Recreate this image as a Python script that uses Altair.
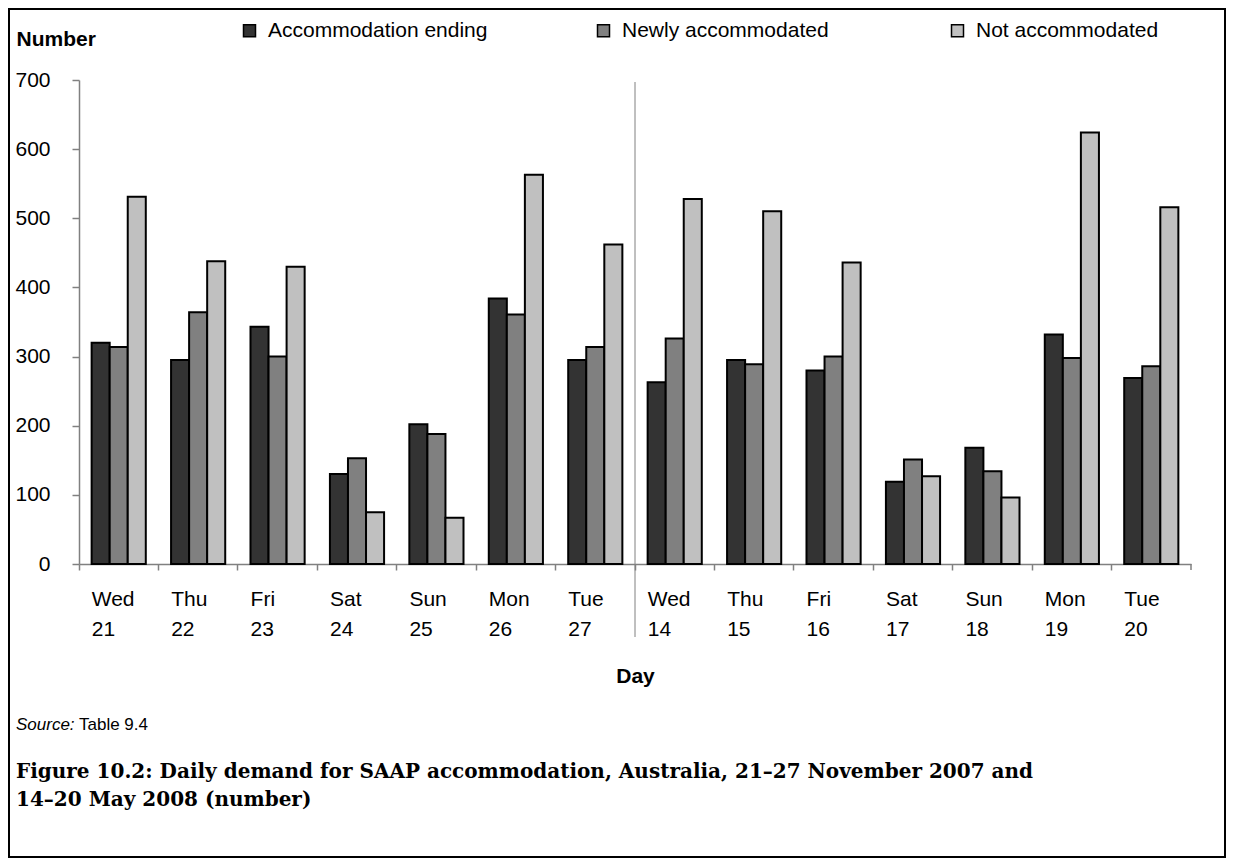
import altair as alt
import pandas as pd

days = ["Wed 21", "Thu 22", "Fri 23", "Sat 24", "Sun 25", "Mon 26", "Tue 27",
        "Wed 14", "Thu 15", "Fri 16", "Sat 17", "Sun 18", "Mon 19", "Tue 20"]
series = ["Accommodation ending", "Newly accommodated", "Not accommodated"]
accommodation_ending = [320, 295, 343, 130, 202, 384, 295, 263, 295, 280, 119, 168, 332, 269]
newly_accommodated = [314, 364, 300, 153, 188, 361, 314, 326, 289, 300, 151, 134, 298, 286]
not_accommodated = [531, 438, 430, 75, 67, 563, 462, 528, 510, 436, 127, 96, 624, 516]
colors = ["#333333", "#808080", "#c0c0c0"]
y_ticks = [0, 100, 200, 300, 400, 500, 600, 700]

rows = []
for name, vals in zip(series, [accommodation_ending, newly_accommodated, not_accommodated]):
    for d, v in zip(days, vals):
        rows.append({"day": d, "series": name, "value": v})
df = pd.DataFrame(rows)

SANS = "Liberation Sans"
W, H = 1112, 484
PL, PT = 71, 72
TOTW, TOTH = 1218, 850

xscale = alt.Scale(paddingInner=0, paddingOuter=0)

bars = alt.Chart(df).mark_bar(stroke="black", strokeWidth=2).encode(
    x=alt.X("day:N", sort=days, scale=xscale,
            axis=alt.Axis(title="Day", bandPosition=0, labelAlign="left", labelOffset=-27,
                          labelExpr="split(datum.label, ' ')", labelLineHeight=30,
                          labelBaseline="alphabetic", labelPadding=35,
                          labelFontSize=21, labelFont=SANS, labelColor="black",
                          tickSize=6, tickColor="#808080", tickWidth=1.5,
                          domainColor="#808080", domainWidth=1.5, labelAngle=0,
                          titleFont=SANS, titleFontSize=21, titleFontWeight="bold",
                          titleColor="black", titleBaseline="alphabetic", titleY=118)),
    xOffset=alt.XOffset("series:N", sort=series,
                        scale=alt.Scale(paddingOuter=0.7, paddingInner=0)),
    y=alt.Y("value:Q", scale=alt.Scale(domain=[0, 700], nice=False),
            axis=alt.Axis(values=y_ticks, grid=False, title="Number", titleAngle=0,
                          titleAlign="left", titleBaseline="alphabetic", titleX=-63, titleY=-35,
                          titleFont=SANS, titleFontSize=21, titleFontWeight="bold",
                          titleColor="black", labelFont=SANS, labelFontSize=21,
                          labelColor="black", labelPadding=22, tickSize=7,
                          tickColor="#808080", tickWidth=1.5, domainColor="#808080",
                          domainWidth=1.5)),
    color=alt.Color("series:N", sort=series,
                    scale=alt.Scale(domain=series, range=colors),
                    legend=alt.Legend(title=None, orient="none", legendX=160, legendY=-60,
                                      direction="horizontal", columns=3, gridAlign="all",
                                      columnPadding=105, symbolType="square", symbolSize=144,
                                      symbolStrokeColor="black", symbolStrokeWidth=1.5,
                                      labelFont=SANS, labelFontSize=21, labelColor="black",
                                      labelOffset=8, labelLimit=500)),
)

divider = alt.Chart(pd.DataFrame({"day": ["Wed 14"]})).mark_rule(
    color="#808080", strokeWidth=1).encode(
    x=alt.X("day:N", sort=days, bandPosition=0),
    y=alt.value(2), y2=alt.value(557))

end_tick = alt.Chart(pd.DataFrame({"day": ["Tue 20"]})).mark_rule(
    color="#808080", strokeWidth=1.5).encode(
    x=alt.X("day:N", sort=days, bandPosition=1),
    y=alt.value(H), y2=alt.value(H + 6))

one = pd.DataFrame({"a": [0]})
frame = alt.Chart(one).mark_rect(fillOpacity=0, stroke="black", strokeWidth=2).encode(
    x=alt.value(-PL + 1), x2=alt.value(TOTW - PL - 1),
    y=alt.value(-PT + 1), y2=alt.value(TOTH - PT - 1))

src1 = alt.Chart(one).mark_text(text="Source:", font=SANS, fontSize=17, fontStyle="italic",
                                align="left", baseline="alphabetic", color="black").encode(
    x=alt.value(-63), y=alt.value(650))
src2 = alt.Chart(one).mark_text(text="Table 9.4", font=SANS, fontSize=17,
                                align="left", baseline="alphabetic", color="black").encode(
    x=alt.value(0), y=alt.value(650))
caption = alt.Chart(one).mark_text(
    text=["Figure 10.2: Daily demand for SAAP accommodation, Australia, 21\u201327 November 2007 and",
          "14\u201320 May 2008 (number)"],
    font="DejaVu Serif", fontSize=20, fontWeight="bold", align="left",
    baseline="alphabetic", lineHeight=28, color="black").encode(
    x=alt.value(-63), y=alt.value(698))

chart = alt.layer(bars, divider, end_tick, frame, src1, src2, caption).properties(
    width=W, height=H,
    background="white",
    padding={"left": PL, "top": PT, "right": TOTW - PL - W, "bottom": TOTH - PT - H},
    autosize=alt.AutoSizeParams(type="none"),
).configure_view(strokeWidth=0, stroke="transparent")

chart.save("out.html", embed_options={"renderer": "svg", "actions": False})
